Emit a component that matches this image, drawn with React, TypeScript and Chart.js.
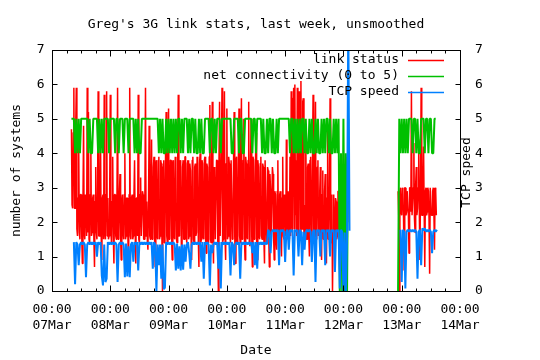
import { useEffect, useRef } from 'react';
import { Chart, registerables } from 'chart.js';

Chart.register(...registerables);

// ---- data (x = hours since 07 Mar 00:00) ----
const LINK_STEP_HOURS = 0.25;
const SAMPLE_STEP_HOURS = 0.5;
const SEGMENT1_START = 8;
const SEGMENT2_START = 142.5;
const GAP_HOUR = 132;

const X_MIN = 0;
const X_MAX = 168;
const MAJOR_TICK_HOURS = 24;
const MINOR_TICK_HOURS = 6;
const dayLabels = ['07Mar', '08Mar', '09Mar', '10Mar', '11Mar', '12Mar', '13Mar', '14Mar'];
const timeLabel = '00:00';
const yTickValues = [0, 1, 2, 3, 4, 5, 6, 7];

const TITLE = "Greg's 3G link stats, last week, unsmoothed";
const X_TITLE = 'Date';
const Y_TITLE = 'number of systems';
const Y2_TITLE = 'TCP speed';

const linkStatus1 = [
  4.7, 2.5, 2.4, 4.6, 5.9, 2.4, 2.4, 4.7, 5.9, 1.8, 1.6, 2.7, 4.2, 1.7, 1.5, 2.8, 2.8, 1.6, 0.8, 2.6, 4.8, 1.7, 1.5, 2.8,
  2.7, 1.6, 5.9, 1.7, 5.2, 1.5, 1.4, 2.8, 4.1, 1.6, 1.7, 2.7, 2.8, 1.5, 0.7, 2.6, 3.6, 1.7, 1.5, 2.8, 5.8, 1.6, 1.6, 2.7,
  4.3, 1.6, 0.9, 2.7, 2.8, 1.5, 5.7, 1.7, 1.5, 2.8, 5.8, 1.6, 2.7, 1.5, 1.6, 2.8, 5.7, 1.7, 1.4, 2.6, 3.9, 1.6, 0.8, 2.8,
  2.8, 1.6, 1.5, 2.7, 5.9, 1.5, 1.7, 2.8, 3.4, 1.6, 0.9, 2.6, 2.8, 1.7, 1.5, 2.8, 4.0, 1.5, 1.6, 2.7, 2.7, 1.6, 0.7, 2.8,
  5.9, 1.6, 1.5, 2.7, 2.8, 1.5, 1.6, 2.8, 3.8, 1.7, 0.8, 2.7, 2.7, 1.6, 5.7, 1.5, 1.4, 2.8, 3.3, 1.6, 1.6, 2.9, 2.8, 1.5,
  1.5, 2.8, 5.9, 1.6, 2.6, 1.5, 1.2, 2.7, 4.8, 1.6, 1.5, 2.9, 4.4, 1.5, 1.6, 3.6, 3.9, 1.5, 0.7, 3.7, 3.8, 1.6, 1.5, 3.8,
  3.9, 1.5, 1.6, 3.8, 3.7, 1.6, 0.0, 3.6, 3.8, 1.4, 1.5, 3.9, 5.2, 1.6, 1.4, 3.7, 5.3, 1.5, 1.7, 3.8, 3.8, 1.6, 0.9, 3.7,
  3.8, 1.6, 1.5, 3.9, 3.6, 1.5, 1.4, 3.7, 5.7, 1.6, 1.6, 3.8, 3.7, 1.4, 0.8, 3.6, 3.8, 1.5, 1.5, 3.9, 3.9, 1.6, 1.4, 3.7,
  3.8, 1.5, 1.6, 3.7, 3.5, 1.6, 0.9, 3.8, 3.9, 1.5, 1.4, 3.6, 3.7, 1.6, 1.7, 3.9, 3.6, 1.5, 0.7, 3.7, 4.0, 1.4, 1.5, 3.8,
  3.7, 1.6, 1.5, 3.8, 3.9, 1.5, 1.1, 3.7, 3.6, 1.4, 1.6, 3.9, 5.4, 1.5, 1.4, 3.8, 5.5, 1.6, 0.8, 3.6, 3.4, 1.5, 1.5, 3.8,
  3.8, 1.5, 0.0, 3.7, 5.5, 1.6, 1.6, 3.9, 5.9, 1.4, 1.5, 3.8, 5.8, 1.6, 0.9, 3.7, 5.3, 1.5, 1.6, 3.9, 3.7, 1.6, 1.4, 3.8,
  3.8, 1.5, 1.6, 3.7, 5.2, 1.6, 0.8, 3.8, 3.9, 1.4, 1.5, 3.9, 5.3, 1.6, 1.4, 3.7, 5.6, 1.5, 1.6, 3.8, 5.0, 1.5, 0.9, 3.9,
  3.7, 1.6, 1.5, 3.8, 5.5, 1.4, 1.3, 3.7, 5.0, 1.6, 0.7, 3.9, 3.8, 1.5, 1.6, 3.6, 4.6, 1.5, 0.9, 3.8, 3.6, 1.6, 1.5, 3.7,
  3.9, 1.6, 1.5, 3.7, 3.6, 1.5, 0.8, 3.8, 3.8, 1.4, 1.6, 3.6, 3.5, 1.6, 0.7, 3.4, 2.9, 1.5, 1.5, 3.6, 3.4, 1.6, 0.9, 2.9,
  2.8, 1.5, 1.2, 2.9, 3.8, 1.6, 1.6, 2.8, 2.9, 1.5, 1.0, 2.7, 3.9, 1.6, 1.5, 2.8, 2.7, 1.6, 4.4, 1.5, 1.6, 2.9, 2.9, 1.5,
  3.9, 1.6, 5.8, 2.0, 1.7, 5.6, 5.9, 1.8, 6.0, 2.2, 3.8, 1.6, 5.9, 2.0, 1.5, 5.8, 5.7, 1.7, 6.1, 2.1, 1.8, 5.5, 5.6, 1.6,
  2.5, 1.6, 4.8, 1.5, 1.5, 3.6, 3.7, 1.6, 1.0, 3.8, 3.9, 1.5, 1.4, 3.7, 5.7, 1.6, 1.6, 3.9, 5.5, 1.5, 1.6, 3.6, 3.8, 1.6,
  1.7, 2.9, 3.6, 1.6, 0.9, 2.8, 3.5, 1.5, 1.5, 2.9, 3.4, 1.6, 0.8, 2.7, 4.8, 1.5, 1.6, 2.9, 5.6, 1.6, 1.4, 2.8, 0.0, 1.7,
  2.8, 1.6, 1.4, 2.7, 2.6, 1.5, 1.6, 2.9, 2.9, 1.6, 0.5, 2.8, 2.7, 1.5, 1.8, 2.6, 4.0, 1.7, 0.6, 2.5, 2.5, 1.4, 3.9, 2.0,
];
const linkStatus2 = [
  2.9, 2.2, 0.0, 2.9, 3.0, 2.3, 2.2, 3.0, 2.9, 2.1, 0.6, 3.0, 3.0, 2.2, 2.3, 2.9,
  2.9, 2.2, 1.1, 3.0, 3.0, 2.3, 5.8, 2.2, 2.2, 3.0, 4.3, 2.1, 1.7, 3.1, 3.6, 2.2,
  2.4, 3.0, 4.4, 2.3, 0.9, 3.0, 5.9, 2.2, 2.2, 3.0, 4.2, 2.3, 0.7, 2.9, 3.0, 2.2,
  2.3, 3.0, 2.9, 2.1, 0.5, 3.0, 3.0, 2.2, 2.2, 2.9, 3.0, 2.3, 1.2, 3.0, 2.9, 2.2,
];

const netConnectivity1 = [
  5, 5, 5, 4, 5, 4, 5, 4, 5, 5, 5, 5,
  5, 5, 4, 5, 4, 4, 5, 5, 5, 5, 4, 5,
  4, 5, 4, 5, 5, 5, 5, 4, 5, 5, 5, 5,
  4, 5, 5, 4, 5, 5, 5, 4, 5, 5, 5, 4,
  5, 5, 5, 5, 4, 5, 4, 5, 4, 4, 5, 5,
  5, 5, 5, 5, 5, 5, 5, 5, 5, 5, 5, 5,
  4, 5, 4, 5, 4, 4, 5, 4, 5, 4, 5, 4,
  5, 4, 5, 4, 5, 5, 4, 5, 4, 5, 5, 5,
  4, 5, 4, 5, 5, 4, 5, 4, 4, 5, 4, 5,
  4, 4, 5, 5, 5, 5, 4, 5, 5, 4, 5, 4,
  5, 5, 5, 4, 5, 5, 5, 5, 5, 5, 5, 5,
  4, 4, 5, 5, 5, 5, 4, 5, 5, 4, 4, 5,
  5, 5, 5, 5, 5, 4, 5, 5, 4, 5, 5, 5,
  5, 4, 5, 4, 4, 5, 4, 5, 5, 4, 5, 4,
  4, 5, 4, 5, 5, 5, 5, 5, 5, 5, 5, 5,
  4, 5, 5, 4, 5, 4, 5, 4, 5, 4, 5, 5,
  4, 5, 4, 4, 5, 4, 5, 4, 4, 5, 4, 5,
  4, 4, 5, 4, 5, 4, 5, 5, 4, 5, 4, 4,
  5, 4, 5, 4, 5, 0, 4, 0, 5, 0, 4, 0,
  5,
];
const netConnectivity2 = [
  0, 5, 4, 5, 4, 5, 4, 5, 4, 5, 5, 5,
  4, 5, 5, 4, 5, 4, 4, 5, 5, 5, 4, 5,
  5, 4, 5, 5, 4, 4, 5, 5,
];

const tcpSpeed1 = [
  null, null, 1.42, 0.2, 1.42, 1.35, 0.75, 1.35, 1.42, 1.35, 1.42, 1.35,
  0.4, 1.35, 1.42, 1.35, 1.42, 1.35, 1.42, 1.35, 1.42, 1.0, 1.42, 1.35,
  1.42, 0.45, 0.16, 1.35, 0.26, 0.36, 1.42, 1.35, 1.42, 1.35, 1.42, 1.35,
  1.42, 1.35, 0.26, 1.35, 1.42, 1.35, 1.42, 1.35, 0.4, 1.38, 0.42, 1.3,
  0.4, 1.35, 1.42, 0.85, 1.42, 1.35, 1.42, 0.6, 1.42, 1.35, 1.42, 1.35,
  1.42, 1.35, 1.42, 1.35, 1.42, 1.35, 1.42, 0.65, 1.42, 1.35, 0.0, 1.35,
  0.75, 1.35, 0.36, 1.35, 0.05, 0.1, 1.42, 1.35, 1.42, 1.35, 1.42, 1.35,
  1.42, 1.35, 0.6, 1.38, 0.65, 1.3, 0.6, 1.35, 0.62, 1.35, 0.85, 1.35,
  1.42, 1.1, 0.65, 1.35, 1.42, 1.35, 1.42, 1.35, 1.42, 1.35, 1.42, 0.85,
  1.42, 0.36, 1.42, 1.35, 1.42, 1.35, 0.16, 1.35, 1.1, 1.35, 1.42, 1.35,
  1.42, 0.65, 1.42, 0.07, 1.42, 1.35, 1.42, 1.35, 1.42, 1.35, 1.42, 0.45,
  1.42, 1.35, 0.75, 1.35, 1.42, 1.35, 1.42, 0.36, 1.42, 1.35, 1.42, 1.35,
  1.42, 1.35, 1.42, 1.35, 1.42, 1.1, 1.42, 0.75, 1.42, 0.65, 1.42, 1.35,
  1.42, 1.35, 1.42, 1.35, 1.42, 1.35, 1.78, 1.72, 1.1, 1.72, 1.78, 1.72,
  1.78, 1.72, 1.78, 0.75, 1.78, 1.72, 1.78, 1.72, 0.84, 1.72, 1.78, 1.2,
  1.78, 1.72, 1.78, 0.45, 1.78, 1.72, 1.78, 1.0, 1.78, 1.72, 0.75, 1.72,
  1.2, 1.72, 1.78, 1.72, 1.78, 1.72, 0.84, 1.72, 1.78, 0.26, 1.78, 1.72,
  1.78, 1.0, 1.78, 1.72, 1.78, 0.75, 1.78, 1.72, 1.78, 1.0, 1.78, 1.72,
  1.78, 0.55, 1.78, 1.72, 1.78, 0.07, 1.78, 1.72, 0.0, 1.7, 0.0, 1.6,
  8, 1.75,
];
const tcpSpeed2 = [
  null, null, 1.78, 0.26, 1.78, 1.72, 0.07, 1.72, 1.78, 1.72, 1.78, 1.72,
  1.78, 1.72, 1.78, 1.72, 0.36, 1.72, 1.78, 0.75, 1.82, 1.76, 1.82, 1.72,
  1.78, 1.72, 1.78, 1.72, 1.1, 1.72, 1.78, 1.72, 1.78,
];

const COLORS = { link: '#ff0000', net: '#00c000', tcp: '#0080ff' };
const FONT = '13px "DejaVu Sans Mono", "Liberation Mono", monospace';

type Pt = { x: number; y: number | null };

function toPoints(start: number, step: number, values: (number | null)[]): Pt[] {
  return values.map((v, i) => ({ x: start + i * step, y: v }));
}

function series(step: number, a: (number | null)[], b: (number | null)[]): Pt[] {
  return [...toPoints(SEGMENT1_START, step, a), { x: GAP_HOUR, y: null }, ...toPoints(SEGMENT2_START, step, b)];
}

const decorPlugin = {
  id: 'gnuplotDecor',
  afterDatasetsDraw(chart: any) {
    const { ctx, chartArea: a, scales } = chart;
    const xs = scales.x;
    const ys = scales.y;
    const L = Math.round(a.left) + 0.5;
    const R = Math.round(a.right) + 0.5;
    const T = Math.round(a.top) + 0.5;
    const B = Math.round(a.bottom) + 0.5;
    ctx.save();
    ctx.strokeStyle = '#000';
    ctx.lineWidth = 1;
    ctx.strokeRect(L, T, R - L, B - T);
    ctx.beginPath();
    yTickValues.forEach((v) => {
      const py = Math.round(ys.getPixelForValue(v)) + 0.5;
      ctx.moveTo(L, py);
      ctx.lineTo(L + 5, py);
      ctx.moveTo(R, py);
      ctx.lineTo(R - 5, py);
    });
    for (let h = X_MIN; h <= X_MAX; h += MINOR_TICK_HOURS) {
      const px = Math.round(xs.getPixelForValue(h)) + 0.5;
      const len = h % MAJOR_TICK_HOURS === 0 ? 6 : 3;
      ctx.moveTo(px, B);
      ctx.lineTo(px, B - len);
      ctx.moveTo(px, T);
      ctx.lineTo(px, T + len);
    }
    ctx.stroke();

    ctx.fillStyle = '#000';
    ctx.font = FONT;
    ctx.textBaseline = 'middle';
    const cx = (a.left + a.right) / 2;
    const cy = (a.top + a.bottom) / 2;

    ctx.textAlign = 'center';
    ctx.fillText(TITLE, cx, 25);
    dayLabels.forEach((lab, i) => {
      const px = xs.getPixelForValue(X_MIN + i * MAJOR_TICK_HOURS);
      ctx.fillText(timeLabel, px, a.bottom + 18.5);
      ctx.fillText(lab, px, a.bottom + 34.5);
    });
    ctx.fillText(X_TITLE, cx, a.bottom + 60);

    yTickValues.forEach((v) => {
      const py = ys.getPixelForValue(v);
      ctx.textAlign = 'right';
      ctx.fillText(String(v), a.left - 7.5, py);
      ctx.textAlign = 'left';
      ctx.fillText(String(v), a.right + 15, py);
    });

    ctx.textAlign = 'center';
    ctx.save();
    ctx.translate(16.5, cy);
    ctx.rotate(-Math.PI / 2);
    ctx.fillText(Y_TITLE, 0, 0);
    ctx.restore();
    ctx.save();
    ctx.translate(a.right + 6.5, cy + 2);
    ctx.rotate(-Math.PI / 2);
    ctx.fillText(Y2_TITLE, 0, 0);
    ctx.restore();

    // key
    chart.data.datasets.forEach((ds: any, k: number) => {
      const y = a.top + 9.5 + 16 * k;
      ctx.textAlign = 'right';
      ctx.fillStyle = '#000';
      ctx.fillText(ds.label, a.right - 61, y);
      ctx.strokeStyle = ds.borderColor;
      ctx.lineWidth = 1.5;
      ctx.beginPath();
      ctx.moveTo(a.right - 52, Math.round(y) + 0.5);
      ctx.lineTo(a.right - 16, Math.round(y) + 0.5);
      ctx.stroke();
    });
    ctx.restore();
  },
};

export default function App() {
  const ref = useRef<HTMLCanvasElement>(null);
  useEffect(() => {
    if (!ref.current) return;
    const common = {
      pointRadius: 0,
      tension: 0,
      spanGaps: false,
      fill: false,
      borderJoinStyle: 'bevel' as const,
      clip: 0,
    };
    const chart = new Chart(ref.current, {
      type: 'line',
      data: {
        datasets: [
          { ...common, label: 'link status', data: series(LINK_STEP_HOURS, linkStatus1, linkStatus2), borderColor: COLORS.link, borderWidth: 1.5, order: 3 },
          { ...common, label: 'net connectivity (0 to 5)', data: series(SAMPLE_STEP_HOURS, netConnectivity1, netConnectivity2), borderColor: COLORS.net, borderWidth: 2, order: 2 },
          { ...common, label: 'TCP speed', data: series(SAMPLE_STEP_HOURS, tcpSpeed1, tcpSpeed2), borderColor: COLORS.tcp, borderWidth: 2, order: 1 },
        ] as any,
      },
      options: {
        responsive: false,
        animation: false,
        devicePixelRatio: 1,
        layout: { padding: { left: 52, top: 50, right: 80, bottom: 69 } },
        scales: {
          x: { type: 'linear', min: X_MIN, max: X_MAX, display: false },
          y: { type: 'linear', min: 0, max: 7, display: false },
        },
        plugins: {
          legend: { display: false },
          tooltip: { enabled: false },
          title: { display: false },
        },
        events: [],
      },
      plugins: [decorPlugin],
    });
    return () => chart.destroy();
  }, []);
  return (
    <canvas
      ref={ref}
      width={540}
      height={360}
      style={{ position: 'fixed', left: 0, top: 0, width: 540, height: 360, background: '#fff' }}
    />
  );
}
